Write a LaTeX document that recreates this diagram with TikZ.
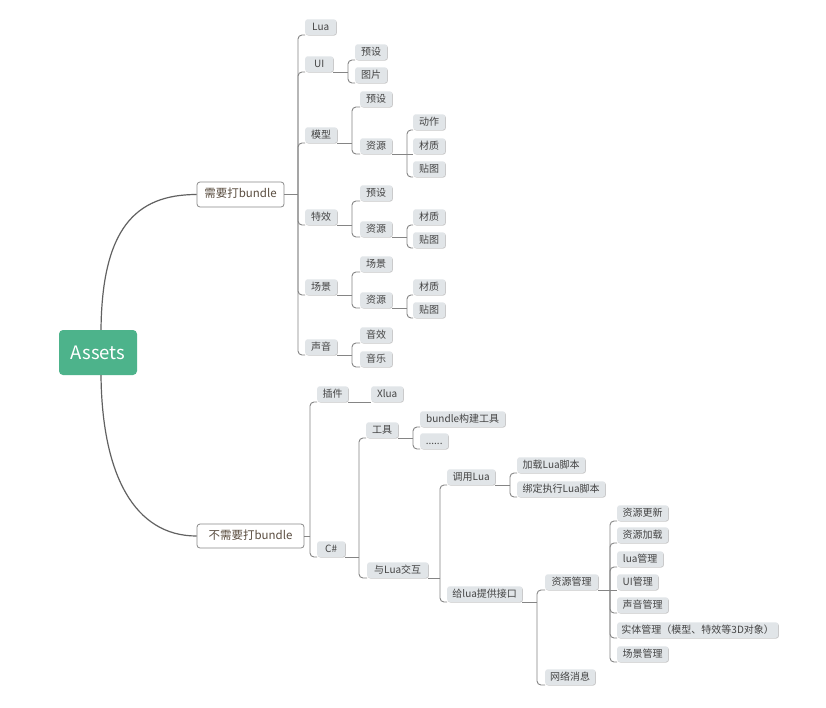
\documentclass[tikz,border=0pt]{standalone}
\usepackage{fontspec}
\setmainfont{Noto Sans CJK SC}
\usetikzlibrary{calc,shadows}
\definecolor{leafgray}{HTML}{E1E5E8}
\definecolor{leaftext}{HTML}{444444}
\definecolor{conngray}{HTML}{858585}
\definecolor{rootgreen}{HTML}{4DB38B}
\definecolor{midtext}{HTML}{5A4D40}
\definecolor{midborder}{HTML}{8A8A8A}
\tikzset{
  leaf/.style={fill=leafgray, rounded corners=2.5pt, minimum height=15.5pt,
    inner xsep=3pt, inner ysep=0pt, text=leaftext, anchor=south west,
    font=\fontsize{10}{12}\selectfont, text height=7.6pt, text depth=1.6pt,
    general shadow={fill=black!22, shadow xshift=0.6pt, shadow yshift=-0.7pt}},
  midbox/.style={draw=midborder, line width=0.8pt, fill=white, rounded corners=3pt,
    inner sep=0pt, text=midtext, font=\fontsize{11.5}{13}\selectfont,
    text height=8.5pt, text depth=2pt},
  rootbox/.style={fill=rootgreen, rounded corners=4pt, inner sep=0pt, text=white,
    font=\fontsize{18.5}{20}\selectfont, minimum width=78pt, minimum height=45pt},
  conn/.style={draw=conngray, line width=0.9pt},
  rootconn/.style={draw=black!62, line width=1.2pt},
}
\newcommand\mmlink[3]{%
  \draw[conn] (#1) -- (#2 |- #1);
  \draw[conn, rounded corners=4pt] (#2 |- #1) -- (#2 |- #3.south west) -- (#3.south west);}
\newcommand\mmstraight[2]{\draw[conn] (#1) -- (#2.south west);}
\begin{document}
\begin{tikzpicture}[x=1pt, y=-1pt]
\useasboundingbox (0,0) rectangle (826,707);
\fill[white] (0,0) rectangle (826,707);

% root and main branches
\node[rootbox] (assets) at (98,352.5) {Assets};
\node[midbox, minimum width=87pt, minimum height=25pt] (need) at (240.5,194.5) {需要打bundle};
\node[midbox, minimum width=107pt, minimum height=24pt] (noneed) at (250.5,536) {不需要打bundle};

\draw[rootconn] ($(assets.north)+(3,0)$) .. controls +(1,-100) and +(-62,0) .. (need.west);
\draw[rootconn] ($(assets.south)+(3,0)$) .. controls +(1,100) and +(-62,0) .. (noneed.west);

% ---------- top branch ----------
\node[leaf, minimum width=31pt] (lua) at (305,35) {Lua};
\node[leaf, minimum width=28pt] (ui) at (305,72) {UI};
\node[leaf, minimum width=32pt] (uiys) at (355,60) {预设};
\node[leaf, minimum width=32pt] (uitp) at (355,83) {图片};
\node[leaf, minimum width=32pt] (mx) at (305,143) {模型};
\node[leaf, minimum width=32pt] (mxys) at (360,107) {预设};
\node[leaf, minimum width=32pt] (mxzy) at (360,154) {资源};
\node[leaf, minimum width=32pt] (mxdz) at (413,130) {动作};
\node[leaf, minimum width=32pt] (mxcz) at (413,154) {材质};
\node[leaf, minimum width=32pt] (mxtt) at (413,177) {贴图};
\node[leaf, minimum width=32pt] (tx) at (305,225) {特效};
\node[leaf, minimum width=32pt] (txys) at (360,201) {预设};
\node[leaf, minimum width=32pt] (txzy) at (360,237) {资源};
\node[leaf, minimum width=32pt] (txcz) at (413,225) {材质};
\node[leaf, minimum width=32pt] (txtt) at (413,248) {贴图};
\node[leaf, minimum width=32pt] (cj) at (305,295) {场景};
\node[leaf, minimum width=32pt] (cjcj) at (360,272) {场景};
\node[leaf, minimum width=32pt] (cjzy) at (360,308) {资源};
\node[leaf, minimum width=32pt] (cjcz) at (413,295) {材质};
\node[leaf, minimum width=32pt] (cjtt) at (413,318) {贴图};
\node[leaf, minimum width=32pt] (sy) at (305,355) {声音};
\node[leaf, minimum width=32pt] (syyx) at (360,343) {音效};
\node[leaf, minimum width=32pt] (syyy) at (360,367) {音乐};

\coordinate (bneed) at (298,0);
\coordinate (bui) at (348,0);
\coordinate (bmx) at (352,0);
\coordinate (bmxzy) at (407,0);
\coordinate (btx) at (352,0);
\coordinate (btxzy) at (407,0);
\coordinate (bcj) at (352,0);
\coordinate (bcjzy) at (407,0);
\coordinate (bsy) at (352,0);

\foreach \c in {lua,ui,mx,tx,cj,sy} {\mmlink{need.east}{bneed}{\c}}
\foreach \c in {uiys,uitp} {\mmlink{ui.south east}{bui}{\c}}
\foreach \c in {mxys,mxzy} {\mmlink{mx.south east}{bmx}{\c}}
\foreach \c in {mxdz,mxtt} {\mmlink{mxzy.south east}{bmxzy}{\c}}
\mmstraight{mxzy.south east}{mxcz}
\foreach \c in {txys,txzy} {\mmlink{tx.south east}{btx}{\c}}
\foreach \c in {txcz,txtt} {\mmlink{txzy.south east}{btxzy}{\c}}
\foreach \c in {cjcj,cjzy} {\mmlink{cj.south east}{bcj}{\c}}
\foreach \c in {cjcz,cjtt} {\mmlink{cjzy.south east}{bcjzy}{\c}}
\foreach \c in {syyx,syyy} {\mmlink{sy.south east}{bsy}{\c}}

% ---------- bottom branch ----------
\node[leaf, minimum width=31pt] (plug) at (317,402) {插件};
\node[leaf, minimum width=32pt] (xlua) at (371,402) {Xlua};
\node[leaf, minimum width=28pt] (cs) at (317,557) {C\#};
\node[leaf, minimum width=32pt] (tool) at (366,438) {工具};
\node[leaf, minimum width=85pt] (bdtool) at (420,427) {bundle构建工具};
\node[leaf, minimum width=28pt] (dots) at (420,449) {......};
\node[leaf, minimum width=61pt] (ylua) at (367,578) {与Lua交互};
\node[leaf, minimum width=48pt] (call) at (447,485) {调用Lua};
\node[leaf, minimum width=68pt] (load) at (517,473) {加载Lua脚本};
\node[leaf, minimum width=88pt] (bind) at (517,497) {绑定执行Lua脚本};
\node[leaf, minimum width=75pt] (iface) at (447,602) {给lua提供接口};
\node[leaf, minimum width=53pt] (resm) at (545,590) {资源管理};
\node[leaf, minimum width=50pt] (net) at (545,685) {网络消息};
\node[leaf, minimum width=51pt] (r1) at (617,521) {资源更新};
\node[leaf, minimum width=51pt] (r2) at (617,543) {资源加载};
\node[leaf, minimum width=46pt] (r3) at (617,567) {lua管理};
\node[leaf, minimum width=41pt] (r4) at (617,590) {UI管理};
\node[leaf, minimum width=51pt] (r5) at (617,613) {声音管理};
\node[leaf, minimum width=161pt] (r6) at (617,638) {实体管理（模型、特效等3D对象）};
\node[leaf, minimum width=51pt] (r7) at (617,662) {场景管理};

\coordinate (bno) at (310,0);
\coordinate (bcs) at (359,0);
\coordinate (btool) at (413,0);
\coordinate (bylua) at (440,0);
\coordinate (bcall) at (510,0);
\coordinate (biface) at (537,0);
\coordinate (bresm) at (610,0);

\foreach \c in {plug,cs} {\mmlink{noneed.east}{bno}{\c}}
\mmstraight{plug.south east}{xlua}
\foreach \c in {tool,ylua} {\mmlink{cs.south east}{bcs}{\c}}
\foreach \c in {bdtool,dots} {\mmlink{tool.south east}{btool}{\c}}
\foreach \c in {call,iface} {\mmlink{ylua.south east}{bylua}{\c}}
\foreach \c in {load,bind} {\mmlink{call.south east}{bcall}{\c}}
\foreach \c in {resm,net} {\mmlink{iface.south east}{biface}{\c}}
\foreach \c in {r1,r2,r3,r5,r6,r7} {\mmlink{resm.south east}{bresm}{\c}}
\mmstraight{resm.south east}{r4}
\end{tikzpicture}
\end{document}
